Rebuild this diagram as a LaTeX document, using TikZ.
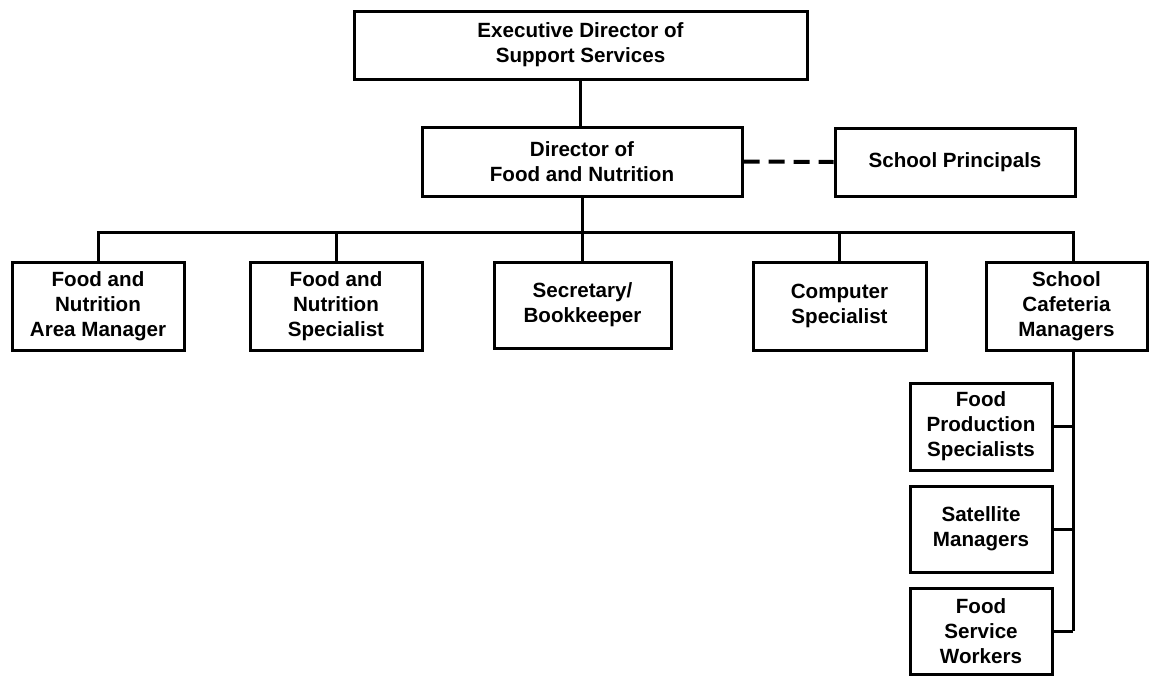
\documentclass[tikz,border=0pt]{standalone}
\usepackage{fontspec}
\setmainfont{Liberation Sans}
\tikzset{
	box/.style={draw,line width=1.5pt,align=center,inner sep=0pt,font=\bfseries\fontsize{10.3}{12.5}\selectfont},
	conn/.style={line width=1.5pt,line join=miter}
}
\begin{document}
	\begin{tikzpicture}[x=0.5pt,y=-0.5pt]
		\useasboundingbox (0,0) rectangle (1150,675);
		\node [box,minimum width=226.5pt,minimum height=34pt] (exec) at (580.5,45) {Executive Director of\\Support Services};
		\node [box,minimum width=160pt,minimum height=34.5pt] (dir) at (582,161.5) {Director of\\Food and Nutrition};
		\node [box,minimum width=120pt,minimum height=34pt] (princ) at (955,162) {School Principals};
		\node [box,minimum width=86pt,minimum height=44pt] (am) at (98,306) {Food and\\Nutrition\\Area Manager};
		\node [box,minimum width=86pt,minimum height=44pt] (spec) at (336,306) {Food and\\Nutrition\\Specialist};
		\node [box,minimum width=88.5pt,minimum height=43pt] (sec) at (582.5,305) {Secretary/\\Bookkeeper};
		\node [box,minimum width=86.5pt,minimum height=44pt] (comp) at (839.5,306) {Computer\\Specialist};
		\node [box,minimum width=80.5pt,minimum height=44pt] (caf) at (1066.5,306) {School\\Cafeteria\\Managers};
		\node [box,minimum width=71pt,minimum height=43.5pt] (fps) at (981,426.5) {Food\\Production\\Specialists};
		\node [box,minimum width=71pt,minimum height=43pt] (sat) at (981,529) {Satellite\\Managers};
		\node [box,minimum width=71pt,minimum height=43pt] (fsw) at (981,631) {Food\\Service\\Workers};
		\coordinate (bar) at (0,232);
		\coordinate (spine) at (1073,0);
		\draw [conn] (exec.south) -- (exec.south |- dir.north);
		\draw [conn] (dir.south) -- (dir.south |- bar);
		\draw [conn] (am.north) |- (bar -| spine) -- (spine |- caf.north);
		\foreach \n in {spec,sec,comp}
			\draw [conn] (\n.north) -- (\n.north |- bar);
		\draw [conn] (spine |- caf.south) -- (spine |- fsw.east);
		\foreach \n in {fps,sat,fsw}
			\draw [conn] (\n.east) -- (spine |- \n.east);
		\draw [line width=2pt,dash pattern=on 8pt off 4.5pt] (dir.east) -- (princ.west);
	\end{tikzpicture}
\end{document}
